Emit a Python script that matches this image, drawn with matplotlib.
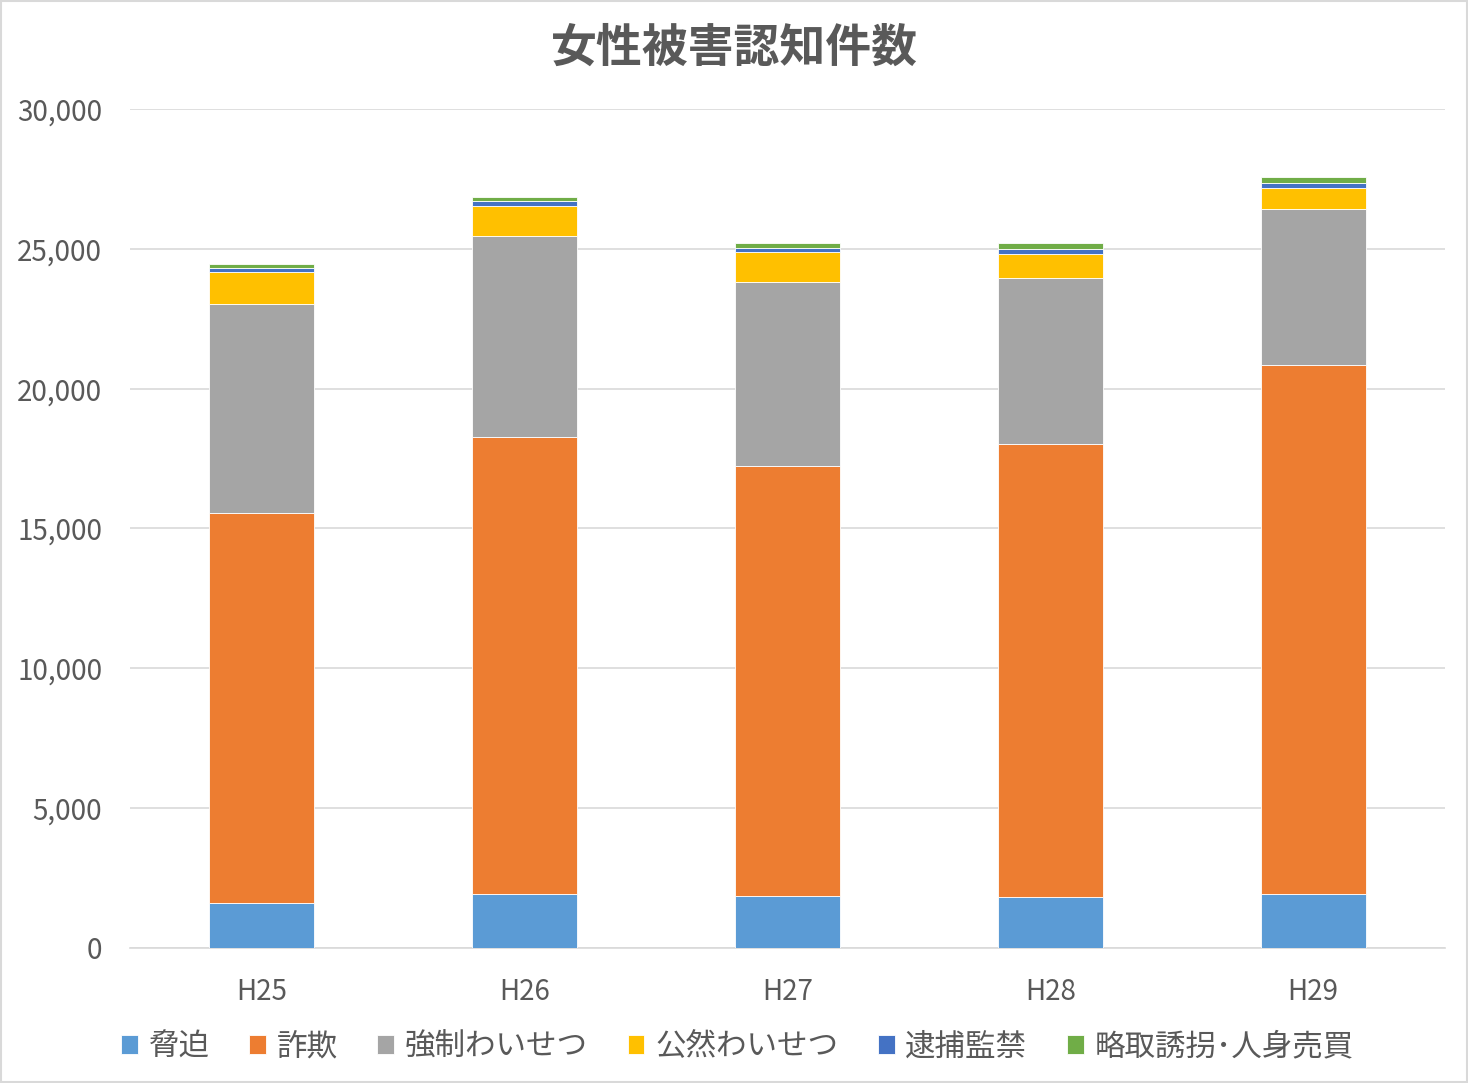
import numpy as np
import matplotlib.pyplot as plt
from matplotlib.patches import Rectangle

plt.rcParams['font.family'] = ['Noto Sans CJK JP', 'DejaVu Sans']

years = ['H25', 'H26', 'H27', 'H28', 'H29']
categories = ['脅迫', '詐欺', '強制わいせつ', '公然わいせつ', '逮捕監禁', '略取誘拐･人身売買']
kyouhaku = [1610, 1930, 1860, 1820, 1930]
sagi = [13950, 16340, 15380, 16200, 18920]
kyousei = [7460, 7180, 6590, 5930, 5590]
kouzen = [1140, 1090, 1050, 880, 750]
taiho = [145, 165, 165, 145, 155]
ryakushu = [145, 155, 155, 225, 225]
colors = ['#5B9BD5', '#ED7D31', '#A5A5A5', '#FFC000', '#4472C4', '#70AD47']

series = [kyouhaku, sagi, kyousei, kouzen, taiho, ryakushu]

fig = plt.figure(figsize=(14.68, 10.83), dpi=100)
ax = fig.add_axes([0.0886, 0.1247, 0.8955, 0.7747])

x = np.arange(len(years))
bottom = np.zeros(len(years))
for name, vals, c in zip(categories, series, colors):
    ax.bar(x, vals, width=0.4, bottom=bottom, color=c, label=name,
           edgecolor='white', linewidth=0.6, zorder=3)
    bottom += np.array(vals)

ax.set_xlim(-0.5, 4.5)
ax.set_ylim(0, 30000)
ax.set_yticks(np.arange(0, 30001, 5000))
ax.set_yticklabels([f'{v:,}' for v in range(0, 30001, 5000)])
ax.set_xticks(x)
ax.set_xticklabels(years)
ax.grid(axis='y', color='#D9D9D9', linewidth=1.2, zorder=0)
for s in ['top', 'right', 'left']:
    ax.spines[s].set_visible(False)
ax.spines['bottom'].set_color('#D9D9D9')
ax.spines['bottom'].set_linewidth(1.2)
ax.tick_params(axis='both', length=0, labelsize=20, colors='#595959')
ax.tick_params(axis='y', pad=20)
ax.tick_params(axis='x', pad=21)

fig.suptitle('女性被害認知件数', y=0.955, va='center', fontsize=33,
             color='#595959', fontweight='bold')

ax.legend(loc='center', bbox_to_anchor=(0.462, -0.118), ncol=6,
          frameon=False, fontsize=22, labelcolor='#595959',
          handlelength=0.55, handleheight=0.55, handletextpad=0.35,
          columnspacing=1.3)

fig.patches.append(Rectangle((0.001, 0.001), 0.998, 0.998, transform=fig.transFigure,
                             fill=False, edgecolor='#D9D9D9', linewidth=1.5))

fig.savefig('out.png', dpi=100)
